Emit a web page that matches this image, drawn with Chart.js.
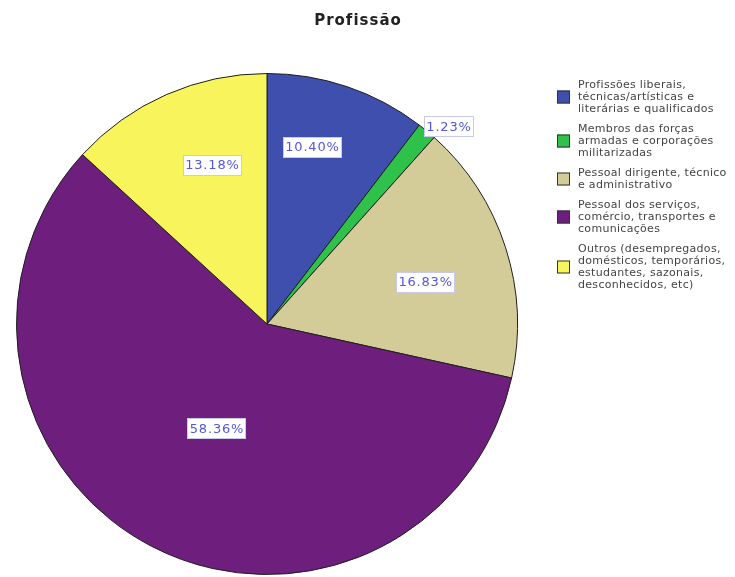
<!DOCTYPE html>
<html>
<head>
<meta charset="utf-8">
<script src="https://cdn.jsdelivr.net/npm/chart.js@4"></script>
<style>
  html, body { margin: 0; padding: 0; background: #ffffff; }
  #wrap { width: 735px; height: 577px; }
</style>
</head>
<body>
<div id="wrap"><canvas id="c" width="735" height="577"></canvas></div>
<script>
// Categories (legend text, one entry per line) and their shares in percent
const categories = [
  ['Profissões liberais,', 'técnicas/artísticas e', 'literárias e qualificados'],
  ['Membros das forças', 'armadas e corporações', 'militarizadas'],
  ['Pessoal dirigente, técnico', 'e administrativo'],
  ['Pessoal dos serviços,', 'comércio, transportes e', 'comunicações'],
  ['Outros (desempregados,', 'domésticos, temporários,', 'estudantes, sazonais,', 'desconhecidos, etc)']
];
const shares = [10.40, 1.23, 16.83, 58.36, 13.18];
const chartTitle = 'Profissão';

const sliceColors = ['#3f4fae', '#2fc24a', '#d3cc98', '#6e1f7d', '#f8f45c'];
// value label placement: distance from the centre (fraction of radius)
// and a small angular nudge (degrees) away from the slice bisector
const labelRadius = [0.727, 1.07, 0.653, 0.464, 0.67];
const labelNudge = [-4.4, 3.0, 3.1, -1.8, 4.6];

const FONT = '"DejaVu Sans", Verdana, sans-serif';

function spacedText(ctx, text, x, y, spacing) {
  ctx.letterSpacing = spacing + 'px';
  ctx.fillText(text, x, y);
  ctx.letterSpacing = '0px';
}

const titlePlugin = {
  id: 'titleText',
  afterDraw(chart) {
    const ctx = chart.ctx;
    ctx.save();
    ctx.font = 'bold 15px ' + FONT;
    ctx.fillStyle = '#222';
    ctx.textAlign = 'center';
    ctx.textBaseline = 'middle';
    spacedText(ctx, chartTitle, 358, 21, 1);
    ctx.restore();
  }
};

const legendPlugin = {
  id: 'sideLegend',
  afterDraw(chart) {
    const ctx = chart.ctx;
    ctx.save();
    ctx.font = '11px ' + FONT;
    ctx.textBaseline = 'middle';
    ctx.textAlign = 'left';
    const lineH = 12, gap = 8;
    let y = 85;
    categories.forEach((lines, i) => {
      const mid = y + (lines.length - 1) * lineH / 2;
      ctx.fillStyle = sliceColors[i];
      ctx.fillRect(557, mid - 6.5, 13, 13);
      ctx.strokeStyle = '#333';
      ctx.lineWidth = 1;
      ctx.strokeRect(557.5, mid - 6, 12, 12);
      ctx.fillStyle = '#444';
      lines.forEach((t, k) => spacedText(ctx, t, 578, y + k * lineH, 0.3));
      y += lines.length * lineH + gap;
    });
    ctx.restore();
  }
};

const valueLabelPlugin = {
  id: 'valueLabels',
  afterDatasetsDraw(chart) {
    const ctx = chart.ctx;
    const meta = chart.getDatasetMeta(0);
    ctx.save();
    ctx.font = '13px ' + FONT;
    ctx.textAlign = 'center';
    ctx.textBaseline = 'middle';
    const spacing = 0.8;
    meta.data.forEach((arc, i) => {
      const p = arc.getProps(['x', 'y', 'startAngle', 'endAngle', 'outerRadius'], true);
      const a = (p.startAngle + p.endAngle) / 2 + labelNudge[i] * Math.PI / 180;
      const r = p.outerRadius * labelRadius[i];
      const x = p.x + Math.cos(a) * r;
      const y = p.y + Math.sin(a) * r;
      const text = shares[i].toFixed(2) + '%';
      ctx.letterSpacing = spacing + 'px';
      const w = Math.round(ctx.measureText(text).width + 5);
      ctx.letterSpacing = '0px';
      const h = 21;
      const bx = Math.round(x - w / 2), by = Math.round(y - h / 2);
      ctx.fillStyle = '#ffffff';
      ctx.fillRect(bx, by, w, h);
      ctx.strokeStyle = '#c9c9ea';
      ctx.lineWidth = 1;
      ctx.strokeRect(bx + 0.5, by + 0.5, w - 1, h - 1);
      ctx.fillStyle = '#5656de';
      spacedText(ctx, text, x + spacing / 2, y + 0.5, spacing);
    });
    ctx.restore();
  }
};

new Chart(document.getElementById('c'), {
  type: 'pie',
  data: {
    labels: categories.map(l => l.join(' ')),
    datasets: [{
      data: shares,
      backgroundColor: sliceColors,
      borderColor: '#1e1e1e',
      borderWidth: 1
    }]
  },
  options: {
    responsive: false,
    animation: false,
    layout: { padding: { left: 16, top: 73, right: 217, bottom: 2 } },
    plugins: {
      legend: { display: false },
      title: { display: false },
      tooltip: { enabled: false }
    }
  },
  plugins: [titlePlugin, legendPlugin, valueLabelPlugin]
});
</script>
</body>
</html>
